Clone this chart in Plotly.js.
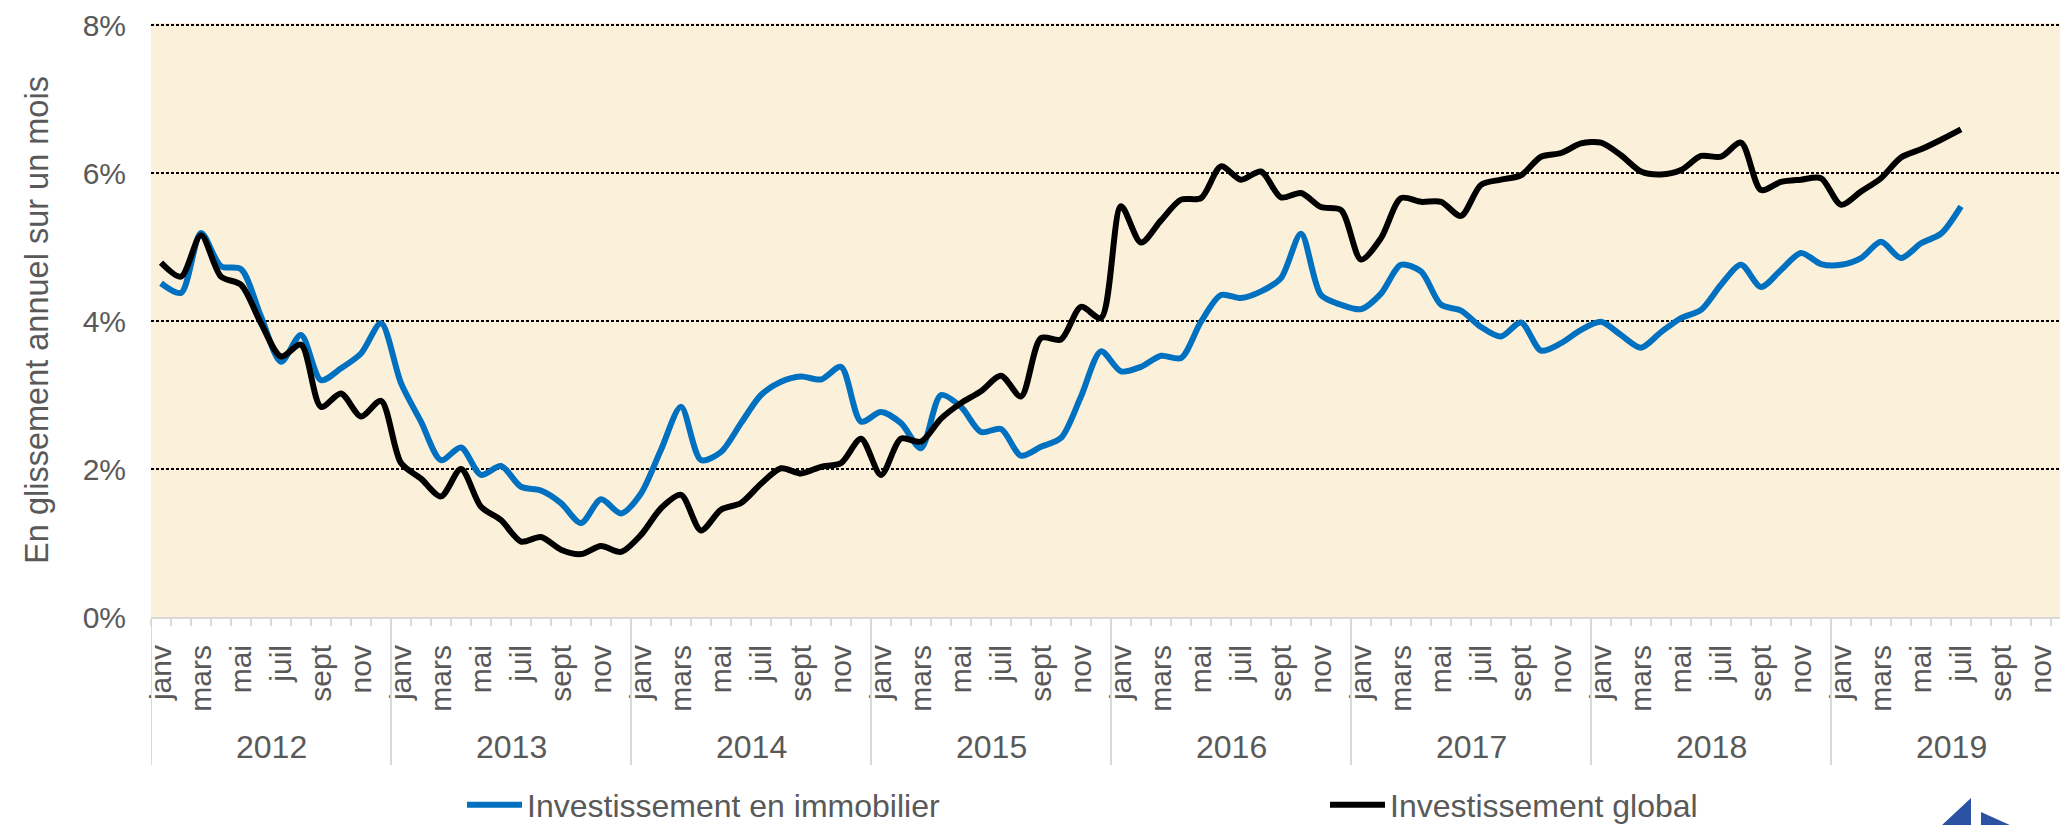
<!DOCTYPE html>
<html>
<head>
<meta charset="utf-8">
<script src="https://cdn.plot.ly/plotly-3.0.1.min.js"></script>
<style>
html,body{margin:0;padding:0;background:#ffffff;overflow:hidden;}
#chart{width:2060px;height:825px;}
</style>
</head>
<body>
<div id="chart"></div>
<script>
// ---- Data ----
const years = [2012, 2013, 2014, 2015, 2016, 2017, 2018, 2019];
const monthTickLabels = ['janv', 'mars', 'mai', 'juil', 'sept', 'nov'];
const seriesNames = ['Investissement en immobilier', 'Investissement global'];
const yTickValues = [0, 2, 4, 6, 8];
const yTickLabels = ['0%', '2%', '4%', '6%', '8%'];
const yAxisTitle = 'En glissement annuel sur un mois';

// monthly values, janv 2012 .. juil 2019 (in %)
const immobilier = [
  4.51, 4.38, 5.19, 4.74, 4.70, 4.06, 3.45, 3.81, 3.20, 3.36, 3.56, 3.97,
  3.16, 2.64, 2.12, 2.29, 1.92, 2.04, 1.76, 1.71, 1.54, 1.27, 1.59, 1.40,
  1.67, 2.26, 2.84, 2.12, 2.23, 2.62, 3.00, 3.18, 3.25, 3.21, 3.38, 2.64,
  2.77, 2.62, 2.28, 3.00, 2.84, 2.50, 2.54, 2.18, 2.30, 2.42, 2.98, 3.59,
  3.32, 3.38, 3.53, 3.50, 3.99, 4.35, 4.31, 4.40, 4.58, 5.18, 4.35, 4.22,
  4.16, 4.37, 4.76, 4.67, 4.22, 4.14, 3.92, 3.79, 3.98, 3.60, 3.70, 3.88,
  3.99, 3.81, 3.64, 3.85, 4.04, 4.15, 4.49, 4.76, 4.46, 4.69, 4.92, 4.77,
  4.76, 4.85, 5.07, 4.85, 5.05, 5.18, 5.55
];
const global = [
  4.79, 4.60, 5.16, 4.60, 4.49, 3.97, 3.52, 3.68, 2.84, 3.02, 2.71, 2.92,
  2.08, 1.87, 1.63, 2.00, 1.49, 1.31, 1.02, 1.08, 0.91, 0.85, 0.96, 0.88,
  1.11, 1.47, 1.65, 1.17, 1.45, 1.54, 1.80, 2.01, 1.94, 2.03, 2.08, 2.41,
  1.92, 2.41, 2.37, 2.68, 2.89, 3.05, 3.26, 2.98, 3.77, 3.75, 4.19, 4.04,
  5.55, 5.06, 5.36, 5.64, 5.66, 6.09, 5.91, 6.02, 5.67, 5.73, 5.54, 5.50,
  4.83, 5.12, 5.66, 5.61, 5.61, 5.42, 5.84, 5.91, 5.97, 6.22, 6.27, 6.40,
  6.41, 6.24, 6.02, 5.98, 6.04, 6.23, 6.22, 6.41, 5.77, 5.88, 5.91, 5.93,
  5.57, 5.75, 5.93, 6.21, 6.32, 6.45, 6.59
];

// ---- Build ----
const W = 2060, H = 825;
const M = {l: 151, r: 0, t: 23, b: 208};
const plotW = W - M.l - M.r, plotH = H - M.t - M.b;
const pxPerUnit = 74;                       // 2 % = 148 px
const yTop = (plotH) / pxPerUnit;           // slightly above 8 so the top grid line shows
const monthIndex = immobilier.map((_, i) => i);

// month tick labels (every second month of each year)
const tickvals = [], ticktext = [];
years.forEach((yr, k) => {
  monthTickLabels.forEach((lab, j) => { tickvals.push(12 * k + 2 * j); ticktext.push(lab); });
});
// month boundaries for the small ticks
const minorVals = [];
for (let i = 0; i <= years.length * 12; i++) minorVals.push(i - 0.5);

const textColor = '#595959';
const fontFam = 'Liberation Sans, Arial, Helvetica, sans-serif';
const axisGray = '#d9d9d9';

// helpers for decorations placed in page pixels
const px = v => (v - M.l) / plotW;
const py = v => (H - M.b - v) / plotH;

const shapes = [];
// year separators below the axis
years.forEach((yr, k) => {
  shapes.push({type: 'line', xref: 'x', yref: 'paper', x0: 12 * k - 0.5, x1: 12 * k - 0.5,
               y0: 0, y1: py(765), line: {color: axisGray, width: 2}});
});
// logo triangles (bottom right)
shapes.push({type: 'path', xref: 'paper', yref: 'paper',
  path: `M${px(1941)},${py(826)} L${px(1971)},${py(798)} L${px(1971)},${py(826)} Z`,
  fillcolor: '#2b52a3', line: {width: 0}});
shapes.push({type: 'path', xref: 'paper', yref: 'paper',
  path: `M${px(1981)},${py(812)} L${px(2012)},${py(826)} L${px(1981)},${py(826)} Z`,
  fillcolor: '#2b52a3', line: {width: 0}});

const annotations = years.map((yr, k) => ({
  x: 12 * k + 5.5, xref: 'x', y: py(747), yref: 'paper',
  text: String(yr), showarrow: false, xanchor: 'center', yanchor: 'middle',
  font: {family: fontFam, size: 32, color: textColor}
}));

const traces = [
  {x: monthIndex, y: immobilier, type: 'scatter', mode: 'lines', name: seriesNames[0],
   line: {color: '#0070c0', width: 6, shape: 'spline', smoothing: 0.8}},
  {x: monthIndex, y: global, type: 'scatter', mode: 'lines', name: seriesNames[1],
   line: {color: '#000000', width: 6, shape: 'spline', smoothing: 0.8}}
];

const layout = {
  width: W, height: H,
  margin: M,
  paper_bgcolor: '#ffffff',
  plot_bgcolor: '#fbf0da',
  font: {family: fontFam, color: textColor},
  showlegend: true,
  legend: {
    orientation: 'h', xref: 'container', yref: 'container',
    x: 462 / W, xanchor: 'left', y: (H - 805) / H, yanchor: 'middle',
    font: {family: fontFam, size: 32, color: textColor},
    bgcolor: 'rgba(0,0,0,0)', itemwidth: 55, entrywidth: 793, entrywidthmode: 'pixels',
    itemclick: false
  },
  xaxis: {
    range: [-0.5, -0.5 + plotW / 20],
    tickmode: 'array', tickvals: tickvals, ticktext: ticktext,
    tickangle: -90, tickfont: {family: fontFam, size: 30, color: textColor},
    ticks: '', ticklabelstandoff: 14,
    showline: true, linecolor: axisGray, linewidth: 2,
    showgrid: false, zeroline: false,
    minor: {tickmode: 'array', tickvals: minorVals, ticks: 'outside', ticklen: 7,
            tickwidth: 2, tickcolor: axisGray, showgrid: false},
    fixedrange: true
  },
  yaxis: {
    range: [0, yTop], tickmode: 'array', tickvals: yTickValues, ticktext: yTickLabels,
    tickfont: {family: fontFam, size: 30, color: textColor},
    ticks: '', ticklabelstandoff: 24,
    showgrid: true, gridcolor: '#000000', gridwidth: 2, griddash: '3px,2px',
    zeroline: false, showline: false,
    title: {text: yAxisTitle, font: {family: fontFam, size: 32.5, color: textColor}, standoff: 24},
    fixedrange: true
  },
  shapes: shapes,
  annotations: annotations
};

Plotly.newPlot('chart', traces, layout, {displayModeBar: false, staticPlot: true});
</script>
</body>
</html>
